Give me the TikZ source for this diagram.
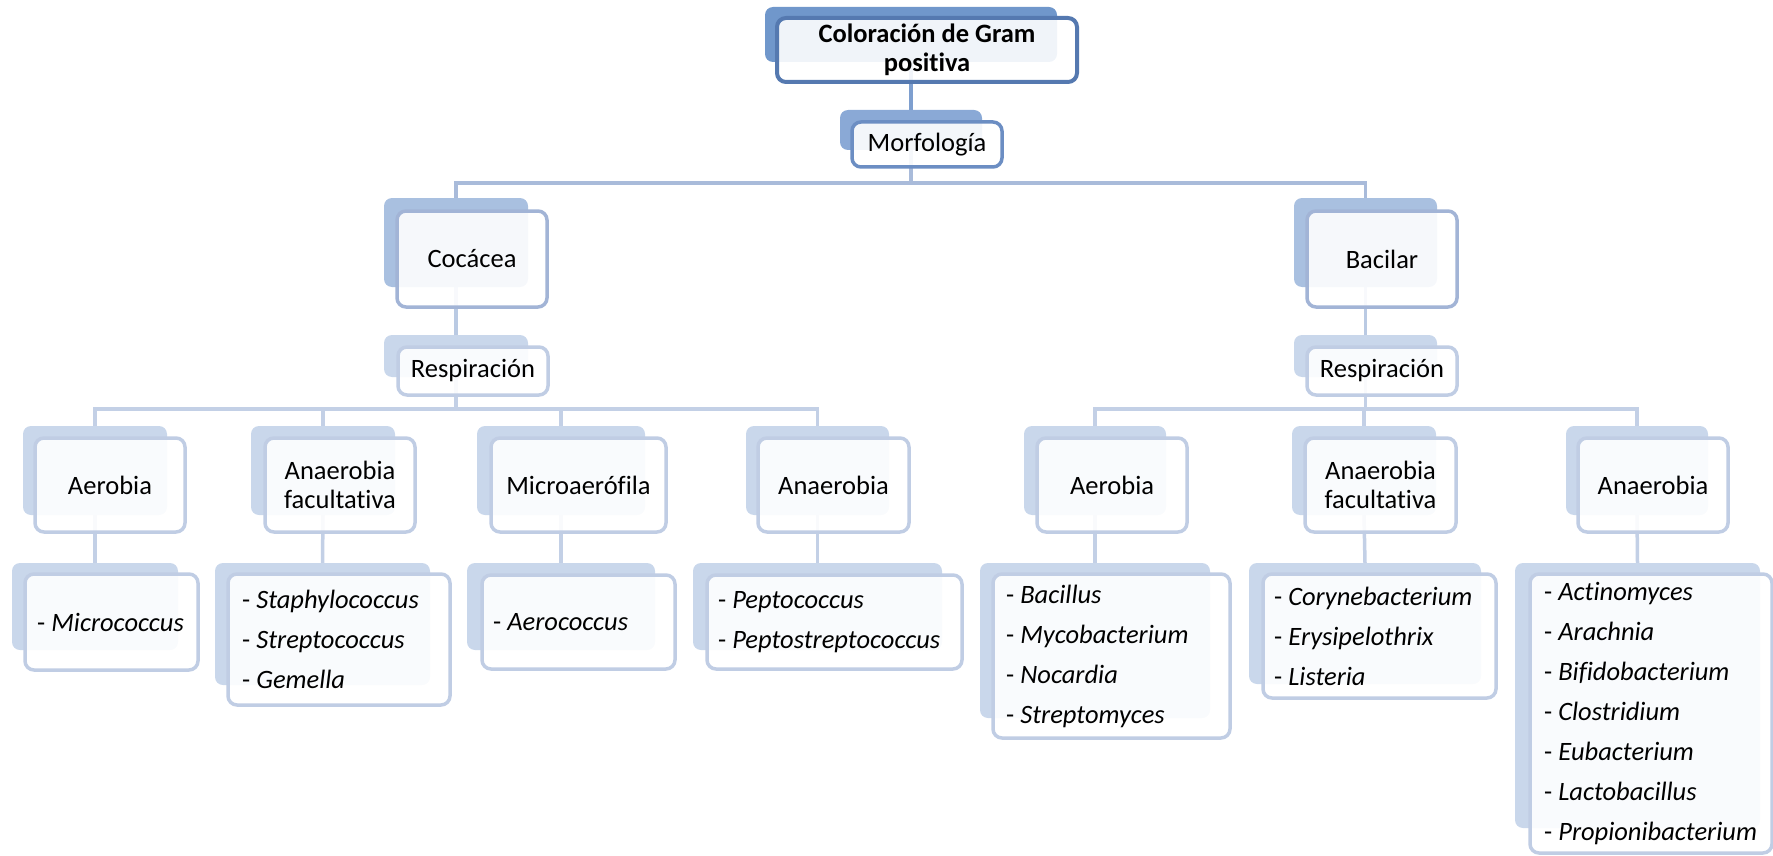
\documentclass[tikz,border=0pt]{standalone}
\usepackage{fontspec}
\setmainfont{Carlito}[Ligatures={NoCommon}]
\usetikzlibrary{fit,backgrounds}

% palette
\definecolor{backA}{HTML}{7097CB}
\definecolor{edgeA}{HTML}{5579B0}
\definecolor{backB}{HTML}{8AA9D6}
\definecolor{edgeB}{HTML}{6C8EC3}
\definecolor{backC}{HTML}{A9C0E0}
\definecolor{edgeC}{HTML}{A2B4D6}
\definecolor{backD}{HTML}{C9D7EB}
\definecolor{edgeD}{HTML}{C0CDE4}
\definecolor{linkA}{HTML}{7E9FCF}
\definecolor{linkB}{HTML}{A9BBDA}
\definecolor{linkC}{HTML}{BACAE3}
\definecolor{linkD}{HTML}{C3D0E6}

\tikzset{
  backbox/.style={rounded corners=8pt, inner sep=0pt, outer sep=0pt, draw=none},
  frontbox/.style={rounded corners=9pt, inner sep=0pt, outer sep=0pt,
                   fill=white, fill opacity=0.9, line width=3.5pt},
  backA/.style={backbox, fill=backA},
  frontA/.style={frontbox, draw=edgeA, line width=4pt},
  backB/.style={backbox, fill=backB},
  frontB/.style={frontbox, draw=edgeB},
  backC/.style={backbox, fill=backC},
  frontC/.style={frontbox, draw=edgeC},
  backD/.style={backbox, fill=backD},
  frontD/.style={frontbox, draw=edgeD},
  lab/.style={font=\fontsize{26.5}{28.5}\selectfont, align=center, inner sep=0pt, text=black},
  listlab/.style={font=\fontsize{26.5}{40}\selectfont, align=left, inner sep=0pt,
                  anchor=west, text=black},
  link/.style={line width=3.5pt}
}

% a shape of the hierarchy: a filled back panel and a framed front panel
\newcommand{\pairbox}[4]{%
  \node[back#2, fit={#3}] (#1b) {};
  \node[front#2, fit={#4}] (#1f) {};
}
\newcommand{\gn}[1]{- \textit{#1}}

\begin{document}
\begin{tikzpicture}[x=1pt, y=-1pt]
\useasboundingbox (0,0) rectangle (1773,856);

% ---- panels ----
\pairbox{title}{A}{(765,7) (1057,62)}{(777,18) (1077,82)}
\pairbox{morf}{B}{(840,110) (982,150)}{(852,122) (1002,167)}

\pairbox{coc}{C}{(384,198) (528,287)}{(397,211) (547,307)}
\pairbox{bac}{C}{(1294,198) (1437,287)}{(1307,211) (1457,307)}

\pairbox{respL}{D}{(384,335) (528,377)}{(398,347) (548,395)}
\pairbox{respR}{D}{(1294,335) (1437,377)}{(1307,347) (1457,395)}

\pairbox{aerL}{D}{(23,426) (167,515)}{(35,438) (185,532)}
\pairbox{facL}{D}{(251,426) (395,515)}{(265,438) (415,532)}
\pairbox{mic}{D}{(477,426) (645,515)}{(491,438) (666,532)}
\pairbox{anaL}{D}{(746,426) (889,515)}{(758,438) (909,532)}

\pairbox{aerR}{D}{(1024,426) (1166,515)}{(1037,438) (1187,532)}
\pairbox{facR}{D}{(1292,426) (1436,515)}{(1305,438) (1456,532)}
\pairbox{anaR}{D}{(1566,426) (1708,515)}{(1578,438) (1728,532)}

\pairbox{gMic}{D}{(12,563) (178,650)}{(25,574) (198,670)}
\pairbox{gSta}{D}{(215,563) (430,685)}{(228,574) (450,705)}
\pairbox{gAer}{D}{(467,563) (655,650)}{(482,575) (675,669)}
\pairbox{gPep}{D}{(693,563) (942,650)}{(707,575) (962,669)}
\pairbox{gBac}{D}{(980,563) (1210,718)}{(993,574) (1230,738)}
\pairbox{gCor}{D}{(1249,563) (1481,684)}{(1263,574) (1496,698)}
\pairbox{gAct}{D}{(1515,563) (1760,828)}{(1530,574) (1772,853)}

% ---- labels ----
\node[lab, font=\fontsize{26.5}{28.5}\selectfont\bfseries] (titlet) at (titlef.center) {Coloración de Gram\\positiva};
\node[lab] (morft) at (morff.center) {Morfología};
\node[lab] (coct) at (cocf.center) {Cocácea};
\node[lab] (bact) at (bacf.center) {Bacilar};
\node[lab] (respLt) at (respLf.center) {Respiración};
\node[lab] (respRt) at (respRf.center) {Respiración};
\node[lab] (aerLt) at (aerLf.center) {Aerobia};
\node[lab] (facLt) at (facLf.center) {Anaerobia\\facultativa};
\node[lab] (mict) at (micf.center) {Microaerófila};
\node[lab] (anaLt) at (anaLf.center) {Anaerobia};
\node[lab] (aerRt) at (aerRf.center) {Aerobia};
\node[lab] (facRt) at (facRf.center) {Anaerobia\\facultativa};
\node[lab] (anaRt) at (anaRf.center) {Anaerobia};

\node[listlab] (gMict) at ([xshift=12pt]gMicf.west) {\gn{Micrococcus}};
\node[listlab] (gStat) at ([xshift=14pt]gStaf.west) {\gn{Staphylococcus}\\\gn{Streptococcus}\\\gn{Gemella}};
\node[listlab] (gAert) at ([xshift=11pt]gAerf.west) {\gn{Aerococcus}};
\node[listlab] (gPept) at ([xshift=11pt]gPepf.west) {\gn{Peptococcus}\\\gn{Peptostreptococcus}};
\node[listlab] (gBact) at ([xshift=13pt]gBacf.west) {\gn{Bacillus}\\\gn{Mycobacterium}\\\gn{Nocardia}\\\gn{Streptomyces}};
\node[listlab] (gCort) at ([xshift=11pt]gCorf.west) {\gn{Corynebacterium}\\\gn{Erysipelothrix}\\\gn{Listeria}};
\node[listlab] (gActt) at ([xshift=14pt]gActf.west) {\gn{Actinomyces}\\\gn{Arachnia}\\\gn{Bifidobacterium}\\\gn{Clostridium}\\\gn{Eubacterium}\\\gn{Lactobacillus}\\\gn{Propionibacterium}};

% ---- connectors, behind the panels ----
\begin{scope}[on background layer]
  \coordinate (barOne) at (0,183);
  \coordinate (barTwo) at (0,409);
  \draw[link, draw=linkA] (titleb.south) -- (morfb.north);
  \draw[link, draw=linkB] (morfb.south) -- (morfb.south |- barOne) -| (cocb.north);
  \draw[link, draw=linkB] (morfb.south) -- (morfb.south |- barOne) -| (bacb.north);
  \draw[link, draw=linkC] (cocb.south) -- (respLb.north);
  \draw[link, draw=linkC] (bacb.south) -- (respRb.north);
  \foreach \c in {aerL,facL,mic,anaL}
    \draw[link, draw=linkD] (respLb.south) -- (respLb.south |- barTwo) -| (\c b.north);
  \foreach \c in {aerR,facR,anaR}
    \draw[link, draw=linkD] (respRb.south) -- (respRb.south |- barTwo) -| (\c b.north);
  \draw[link, draw=linkD] (aerLb.south) -- (gMicb.north);
  \draw[link, draw=linkD] (facLb.south) -- (gStab.north);
  \draw[link, draw=linkD] (micb.south) -- (gAerb.north);
  \draw[link, draw=linkD] (anaLb.south) -- (gPepb.north);
  \draw[link, draw=linkD] (aerRb.south) -- (gBacb.north);
  \draw[link, draw=linkD] (facRb.south) -- (gCorb.north);
  \draw[link, draw=linkD] (anaRb.south) -- (gActb.north);
\end{scope}
\end{tikzpicture}
\end{document}
